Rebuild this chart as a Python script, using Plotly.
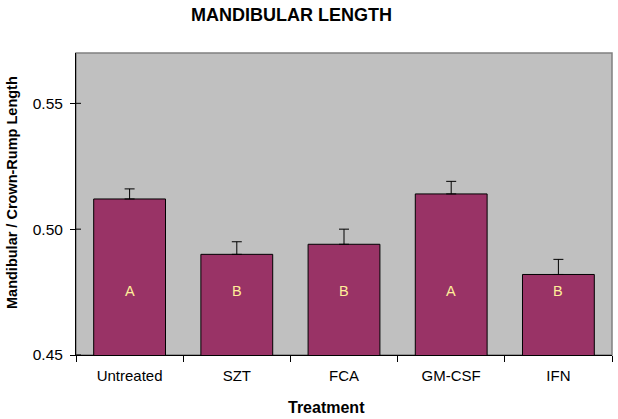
import plotly.graph_objects as go

categories = ["Untreated", "SZT", "FCA", "GM-CSF", "IFN"]
means = [0.512, 0.490, 0.494, 0.514, 0.482]
errors = [0.004, 0.005, 0.006, 0.005, 0.006]
letters = ["A", "B", "B", "A", "B"]
letter_y = 0.4755
y_ticks = [0.45, 0.50, 0.55]

FONT = "Liberation Sans, Arial, Helvetica, sans-serif"
PLOT_W = 536
PLOT_H = 302

fig = go.Figure()
fig.add_trace(go.Bar(
    x=categories, y=means,
    marker=dict(color="#993366", line=dict(color="black", width=1)),
    error_y=dict(type="data", array=errors, arrayminus=[0]*len(errors), symmetric=False,
                 color="black", thickness=1, width=5),
    showlegend=False, hoverinfo="skip",
))

for c, l in zip(categories, letters):
    fig.add_annotation(x=c, y=letter_y, text=l, showarrow=False,
                       font=dict(family=FONT, size=14.5, color="#FFEE99"))

fig.add_shape(type="rect", xref="paper", yref="paper", x0=0, x1=1, y0=0, y1=1,
              line=dict(color="#808080", width=1.5), layer="below")

# cross-style y ticks (inner half)
for v in y_ticks:
    fig.add_shape(type="line", xref="paper", yref="y", x0=0, x1=5/PLOT_W, y0=v, y1=v,
                  line=dict(color="black", width=1), layer="above")

# titles as annotations (paper coordinates)
fig.add_annotation(xref="paper", yref="paper", x=(291-76)/PLOT_W, y=(355-15)/PLOT_H,
                   text="<b>MANDIBULAR LENGTH</b>", showarrow=False, xanchor="center", yanchor="middle",
                   font=dict(family=FONT, size=18, color="black"))
fig.add_annotation(xref="paper", yref="paper", x=(326-76)/PLOT_W, y=(355-408)/PLOT_H,
                   text="<b>Treatment</b>", showarrow=False, xanchor="center", yanchor="middle",
                   font=dict(family=FONT, size=16, color="black"))
fig.add_annotation(xref="paper", yref="paper", x=(12-76)/PLOT_W, y=(355-193)/PLOT_H,
                   text="<b>Mandibular / Crown-Rump Length</b>", showarrow=False, textangle=-90,
                   xanchor="center", yanchor="middle",
                   font=dict(family=FONT, size=14.5, color="black"))

fig.update_layout(
    width=618, height=419,
    margin=dict(l=76, r=6, t=53, b=64, autoexpand=False),
    paper_bgcolor="white", plot_bgcolor="#C0C0C0",
    bargap=0.33,
    font=dict(family=FONT, color="black"),
    xaxis=dict(
        tickfont=dict(size=15), showline=True, linecolor="black", linewidth=1,
        ticks="outside", tickson="boundaries", ticklen=6, tickcolor="black",
        ticklabelstandoff=7, showgrid=False, automargin=False,
    ),
    yaxis=dict(
        range=[0.45, 0.57], tickvals=y_ticks, ticktext=[f"{v:.2f}" for v in y_ticks],
        tickfont=dict(size=15.5), showline=True, linecolor="black", linewidth=1,
        ticks="outside", ticklen=5, tickcolor="black", showgrid=False, zeroline=False,
        ticklabelstandoff=4, automargin=False,
    ),
)

fig.write_html("out.html", post_script="document.body.style.margin='0';",
               config={"displayModeBar": False})
